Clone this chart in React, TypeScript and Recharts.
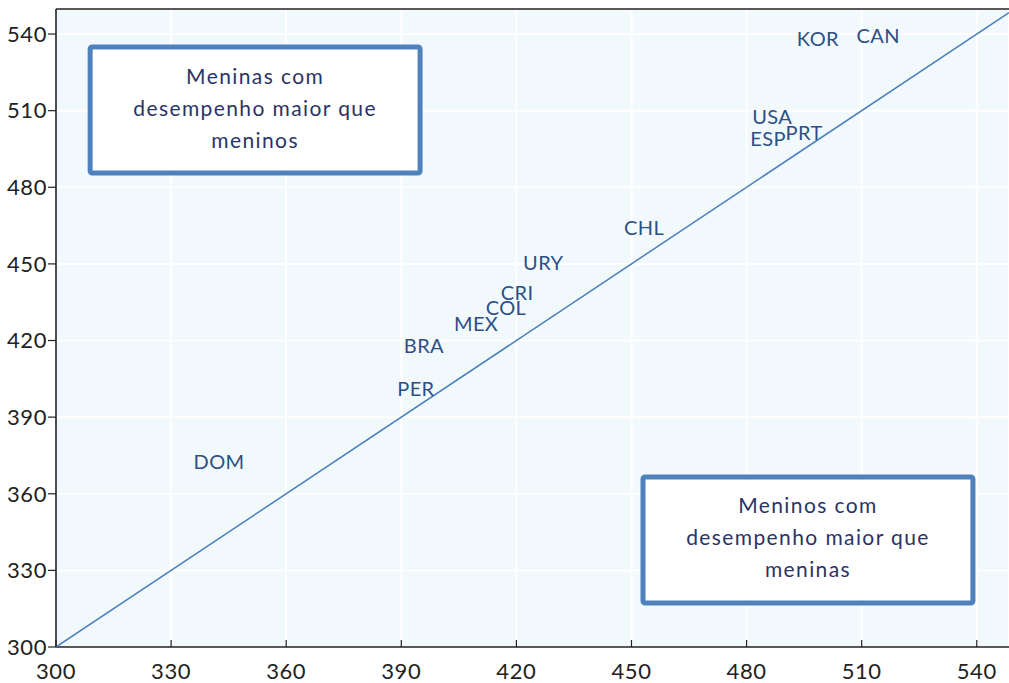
import React from "react";
import { ScatterChart, Scatter, XAxis, YAxis, CartesianGrid, ReferenceLine, ReferenceArea } from "recharts";

const countries = ["KOR", "CAN", "USA", "ESP", "PRT", "CHL", "URY", "CRI", "COL", "MEX", "BRA", "PER", "DOM"];
const boysScores = [498.6, 514.3, 486.7, 485.6, 495.0, 453.3, 427.0, 420.2, 417.3, 409.5, 395.9, 393.8, 342.5];
const girlsScores = [538.4, 539.6, 507.9, 499.3, 501.6, 464.4, 450.7, 439.0, 433.1, 426.9, 418.2, 401.4, 372.8];
const ticks = [300, 330, 360, 390, 420, 450, 480, 510, 540];
const diagonal = [300, 548.4];
const girlsBoxText = ["Meninas com", "desempenho maior que", "meninos"];
const boysBoxText = ["Meninos com", "desempenho maior que", "meninas"];

const xDomain: [number, number] = [300, 548.4];
const yDomain: [number, number] = [300, 549.8];

const FONT = "Lato, 'Open Sans', sans-serif";

const labelData = countries.map((c, i) => ({ name: c, x: boysScores[i], y: girlsScores[i] }));
const lineData = diagonal.map((v) => ({ x: v, y: v }));

const LabelShape = (props: any) => (
  <text
    x={props.cx}
    y={props.cy}
    textAnchor="middle"
    dominantBaseline="central"
    fontFamily={FONT}
    fontSize={20}
    letterSpacing={0.4}
    fill="#2d4f86"
  >
    {props.payload.name}
  </text>
);

const XTick = (props: any) => {
  const { x, y, payload } = props;
  return (
    <g>
      <line x1={x} y1={y} x2={x} y2={y - 7} stroke="#222" strokeWidth={1.2} />
      <text x={x} y={y + 23} textAnchor="middle" dominantBaseline="central" fontFamily={FONT} fontSize={22} letterSpacing={0.6} fill="#222">
        {payload.value}
      </text>
    </g>
  );
};

const makeBox = (lines: string[]) => (props: any) => {
  const { x, y, width, height } = props;
  const cx = x + width / 2;
  const cy = y + height / 2;
  return (
    <g>
      <rect x={x} y={y} width={width} height={height} fill="#ffffff" stroke="#4f81bd" strokeWidth={5} rx={2} />
      {lines.map((l, i) => (
        <text
          key={i}
          x={cx}
          y={cy - 3 + (i - 1) * 32}
          textAnchor="middle"
          dominantBaseline="central"
          fontFamily={FONT}
          fontSize={21}
          letterSpacing={1.4}
          fill="#2b3366"
        >
          {l}
        </text>
      ))}
    </g>
  );
};

export default function App() {
  return (
    <div style={{ position: "absolute", left: 0, top: 0 }}>
      <ScatterChart width={1009} height={683} margin={{ top: 9, right: 0, bottom: 0, left: 0 }}>
        <CartesianGrid stroke="#ffffff" strokeWidth={2} fill="#f2f9fc" />
        <XAxis
          type="number"
          dataKey="x"
          domain={xDomain}
          ticks={ticks}
          allowDataOverflow
          height={36}
          tickSize={0}
          tickMargin={0}
          tickLine={false}
          tick={<XTick />}
          axisLine={{ stroke: "#222", strokeWidth: 1.6 }}
        />
        <YAxis
          type="number"
          dataKey="y"
          domain={yDomain}
          ticks={ticks}
          allowDataOverflow
          width={56}
          tickSize={8}
          tickMargin={1}
          tickLine={{ stroke: "#222", strokeWidth: 1.2 }}
          axisLine={{ stroke: "#222", strokeWidth: 1.6 }}
          tick={{ fontFamily: FONT, fontSize: 22, fill: "#222", letterSpacing: 0.6 }}
        />
        <ReferenceLine y={yDomain[1]} stroke="#222" strokeWidth={1.6} ifOverflow="visible" />
        <ReferenceArea x1={308.9} x2={394.9} y1={485.6} y2={534.9} shape={makeBox(girlsBoxText)} ifOverflow="visible" />
        <ReferenceArea x1={453.0} x2={539.0} y1={317.2} y2={366.6} shape={makeBox(boysBoxText)} ifOverflow="visible" />
        <Scatter
          data={lineData}
          line={{ stroke: "#4a7ebb", strokeWidth: 1.5 }}
          shape={() => <g />}
          isAnimationActive={false}
        />
        <Scatter data={labelData} shape={<LabelShape />} isAnimationActive={false} />
      </ScatterChart>
    </div>
  );
}
